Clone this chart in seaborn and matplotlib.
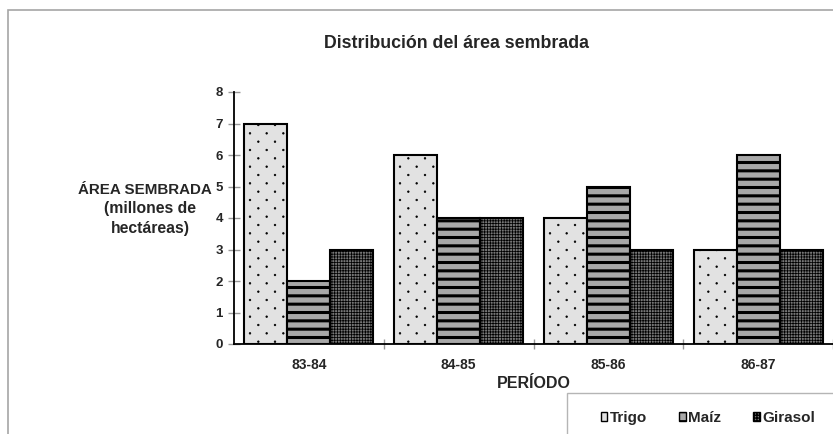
import matplotlib
matplotlib.use("Agg")
import matplotlib.pyplot as plt
import matplotlib.hatch as mhatch
from matplotlib.path import Path
from matplotlib.patches import Rectangle, Patch
import numpy as np
import seaborn as sns
import pandas as pd

# ---- data ----
periods = ["83-84", "84-85", "85-86", "86-87"]
series = ["Trigo", "Maíz", "Girasol"]
trigo = [7, 6, 4, 3]
maiz = [2, 4, 5, 6]
girasol = [3, 4, 3, 3]
yticks = [0, 1, 2, 3, 4, 5, 6, 7, 8]

title = "Distribución del área sembrada"
ylabel_lines = ["ÁREA SEMBRADA", "(millones de", "hectáreas)"]
xlabel = "PERÍODO"


# ---- a sparser staggered dot hatch for '.' (Excel-like dotted fill) ----
class DotLattice(mhatch.HatchPatternBase):
    def __init__(self, hatch, density):
        n = hatch.count('.')
        self.ncols = 6 * n
        self.nrows = 12 * n
        circ = Path.unit_circle()
        self.shape_vertices = circ.vertices
        self.shape_codes = circ.codes
        if n == 0:
            self.num_vertices = 0
        else:
            nshapes = ((self.nrows // 2 + 1) * (self.ncols + 1)
                       + (self.nrows // 2) * self.ncols)
            self.num_vertices = nshapes * len(self.shape_vertices)

    def set_vertices_and_codes(self, vertices, codes):
        sv = self.shape_vertices * 0.008
        dx = 1.0 / self.ncols
        dy = 1.0 / self.nrows
        vp, cp = [], []
        for row in range(self.nrows + 1):
            if row % 2 == 0:
                cols = np.linspace(0, 1, self.ncols + 1)
            else:
                cols = np.linspace(dx / 2, 1 - dx / 2, self.ncols)
            for c in cols:
                vp.append(sv + [c, row * dy])
                cp.append(self.shape_codes)
        np.concatenate(vp, out=vertices)
        np.concatenate(cp, out=codes)


mhatch._hatch_types = [DotLattice if t is mhatch.SmallFilledCircles else t
                       for t in mhatch._hatch_types]

df = pd.DataFrame({
    "Período": periods * 3,
    "Cultivo": [s for s in series for _ in periods],
    "Área": trigo + maiz + girasol,
})

sns.set_theme(style="white")
plt.rcParams['font.family'] = ['Liberation Sans', 'DejaVu Sans']
plt.rcParams['font.weight'] = 'bold'

W, H = 833, 434
fig = plt.figure(figsize=(W / 100, H / 100), dpi=100)
ax = fig.add_axes([234 / W, 1 - 344 / H, (833 - 234) / W, (344 - 92) / H])

palette = {"Trigo": "#e2e2e2", "Maíz": "#a8a8a8", "Girasol": "#767676"}
hatches = {"Trigo": ".", "Maíz": "--", "Girasol": "++++++"}
hlw = {"Trigo": 0.5, "Maíz": 2.2, "Girasol": 0.55}

sns.barplot(data=df, x="Período", y="Área", hue="Cultivo", hue_order=series,
            order=periods, palette=palette, width=0.86, edgecolor="black",
            linewidth=1.5, saturation=1, ax=ax, legend=False, errorbar=None)

for cont, s in zip(ax.containers, series):
    for bar in cont:
        bar.set_hatch(hatches[s])
        if hasattr(bar, "set_hatch_linewidth"):
            bar.set_hatch_linewidth(hlw[s])

ax.set_xlim(-0.5, 3.5)
ax.set_ylim(0, 8)
ax.set_yticks(yticks)
ax.set_yticklabels([str(v) for v in yticks], fontsize=9.5, fontweight='bold')
ax.tick_params(axis='y', which='major', direction='inout', length=8, width=1,
               color='#999999', pad=4, left=True)
ax.set_xticks(range(len(periods)))
ax.set_xticklabels(periods, fontsize=10, fontweight='bold')
ax.tick_params(axis='x', which='major', length=0, pad=10)
ax.set_xticks([0.5, 1.5, 2.5, 3.5], minor=True)
ax.tick_params(axis='x', which='minor', direction='inout', length=7, width=1,
               color='#999999', bottom=True)

for side in ["top", "right"]:
    ax.spines[side].set_visible(False)
for side in ["left", "bottom"]:
    ax.spines[side].set_color("black")
    ax.spines[side].set_linewidth(1.3)

ax.set_xlabel(xlabel, fontsize=11.5, fontweight='bold', labelpad=3)
ax.set_ylabel("")

fig.text(457 / W, 1 - 43 / H, title, ha='center', va='center',
         fontsize=12.8, fontweight='bold')
for line, base, xc, fs in zip(ylabel_lines, [194.5, 213.5, 232.5],
                              [145, 150, 150], [10.9, 11.3, 11.3]):
    fig.text(xc / W, 1 - base / H, line, ha='center', va='baseline',
             fontsize=fs, fontweight='bold')

# outer chart frame
fig.patches.append(Rectangle((8 / W, -0.2), 1.2, (H - 10) / H + 0.2,
                             transform=fig.transFigure, fill=False,
                             edgecolor='#a6a6a6', linewidth=1.2))
# legend frame
fig.patches.append(Rectangle((567 / W, -0.2), 0.5, (H - 393) / H + 0.2,
                             transform=fig.transFigure, fill=False,
                             edgecolor='#b5b5b5', linewidth=1.0))

handles = []
for s in series:
    p = Patch(facecolor=palette[s], edgecolor='black', hatch=hatches[s],
              linewidth=1.0)
    handles.append(p)
fig.legend(handles, series, loc='center', bbox_to_anchor=(708 / W, 1 - 418 / H),
           ncol=3, frameon=False, handlelength=0.45, handleheight=0.45,
           handletextpad=0.15, columnspacing=2.1,
           prop={'weight': 'bold', 'size': 11})

fig.savefig("out.png", dpi=100)
